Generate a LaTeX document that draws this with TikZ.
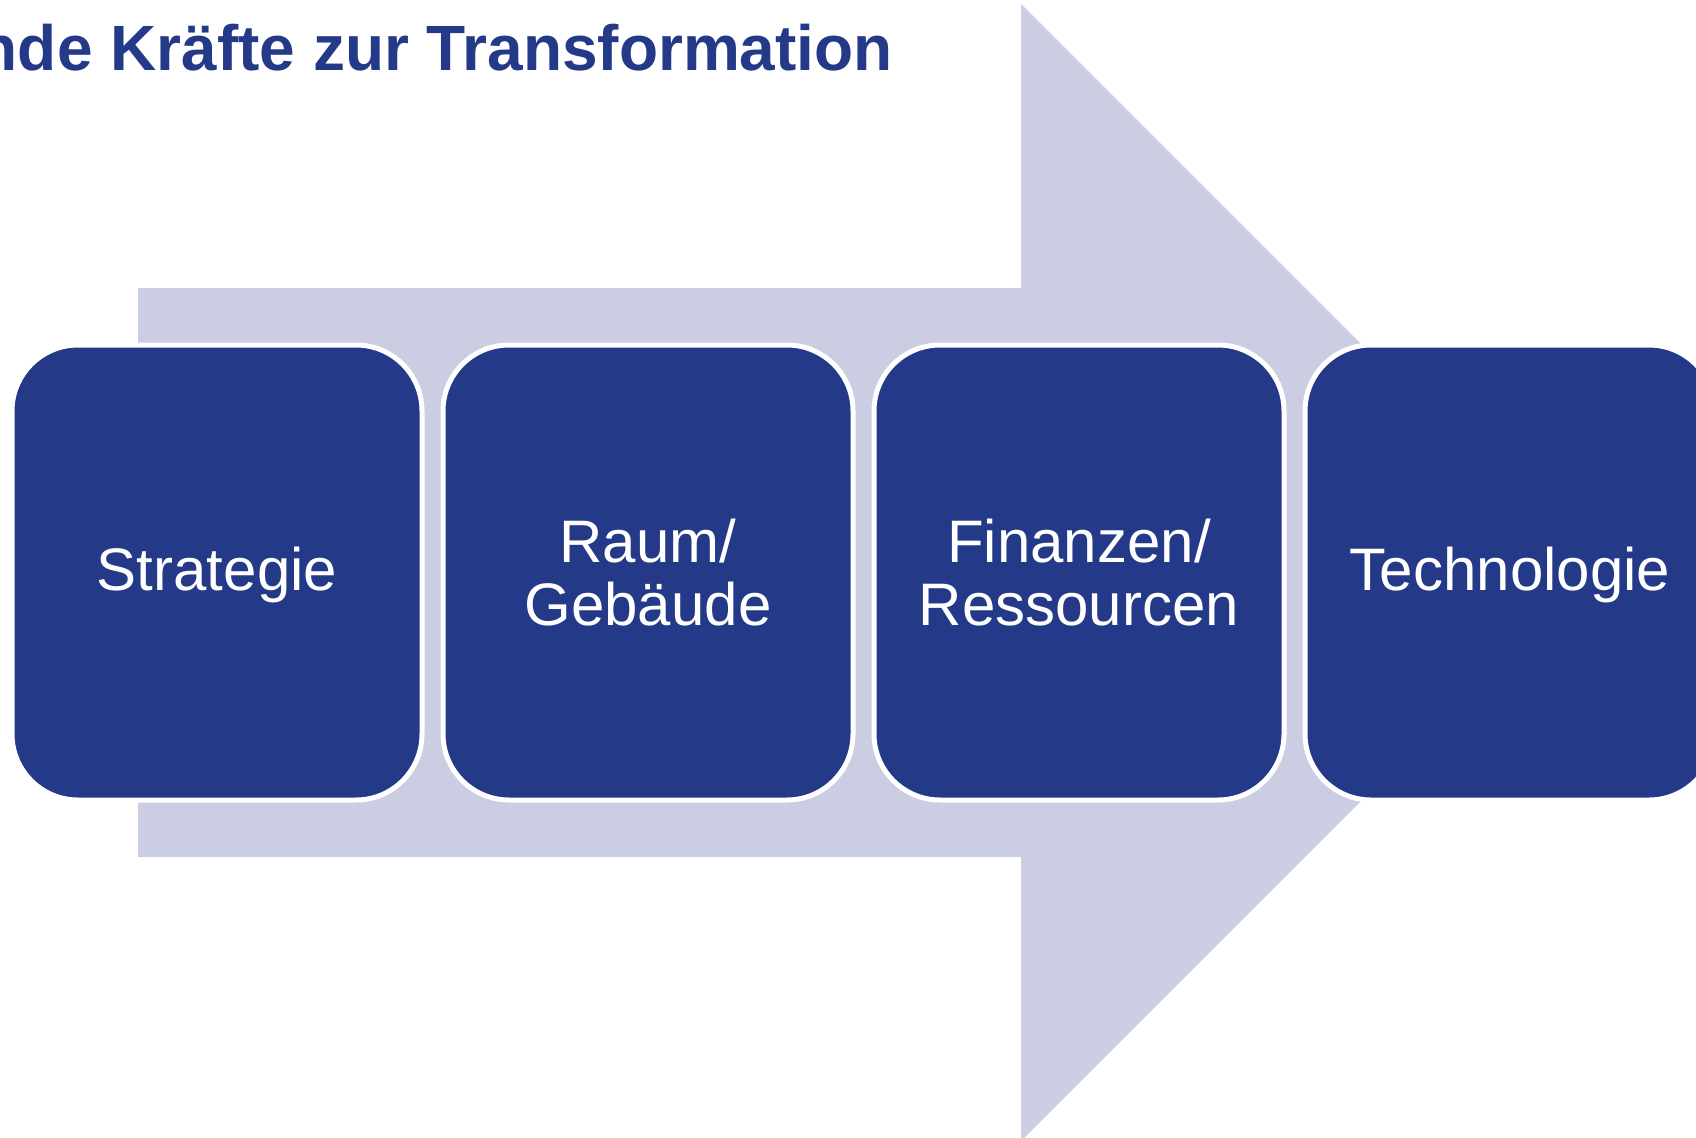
\documentclass[tikz,border=0pt]{standalone}
\usepackage{fontspec}
\setmainfont{Liberation Sans}
\definecolor{boxblue}{RGB}{36,57,135}
\definecolor{arrowfill}{RGB}{203,205,227}
\tikzset{
  box/.style={draw=white, line width=5pt, fill=boxblue, rounded corners=66pt,
    minimum width=410pt, minimum height=455pt, inner sep=0pt,
    text=white, align=center, font=\fontsize{60}{63}\selectfont},
  oneline/.style={text depth=8pt},
  titletext/.style={font=\bfseries\fontsize{64}{70}\selectfont, text=boxblue, inner sep=0pt}
}
\begin{document}
\begin{tikzpicture}[x=1pt,y=-1pt]
\useasboundingbox (0,0) rectangle (1696,1137);
\clip (0,0) rectangle (1696,1137);
\fill[arrowfill] (138,288) -- (1021,288) -- (1021,4) -- (1589.5,572.5) -- (1021,1141) -- (1021,857) -- (138,857) -- cycle;
\node[titletext, anchor=base east] (title) at (893,71) {nde Kräfte zur Transformation};
\node[box, oneline] (b1) at (217,572.5) {Strategie};
\node[box] (b2) at (648,572.5) {Raum/\\Gebäude};
\node[box] (b3) at (1079,572.5) {Finanzen/\\Ressourcen};
\node[box, oneline] (b4) at (1510,572.5) {Technologie};
\end{tikzpicture}
\end{document}
